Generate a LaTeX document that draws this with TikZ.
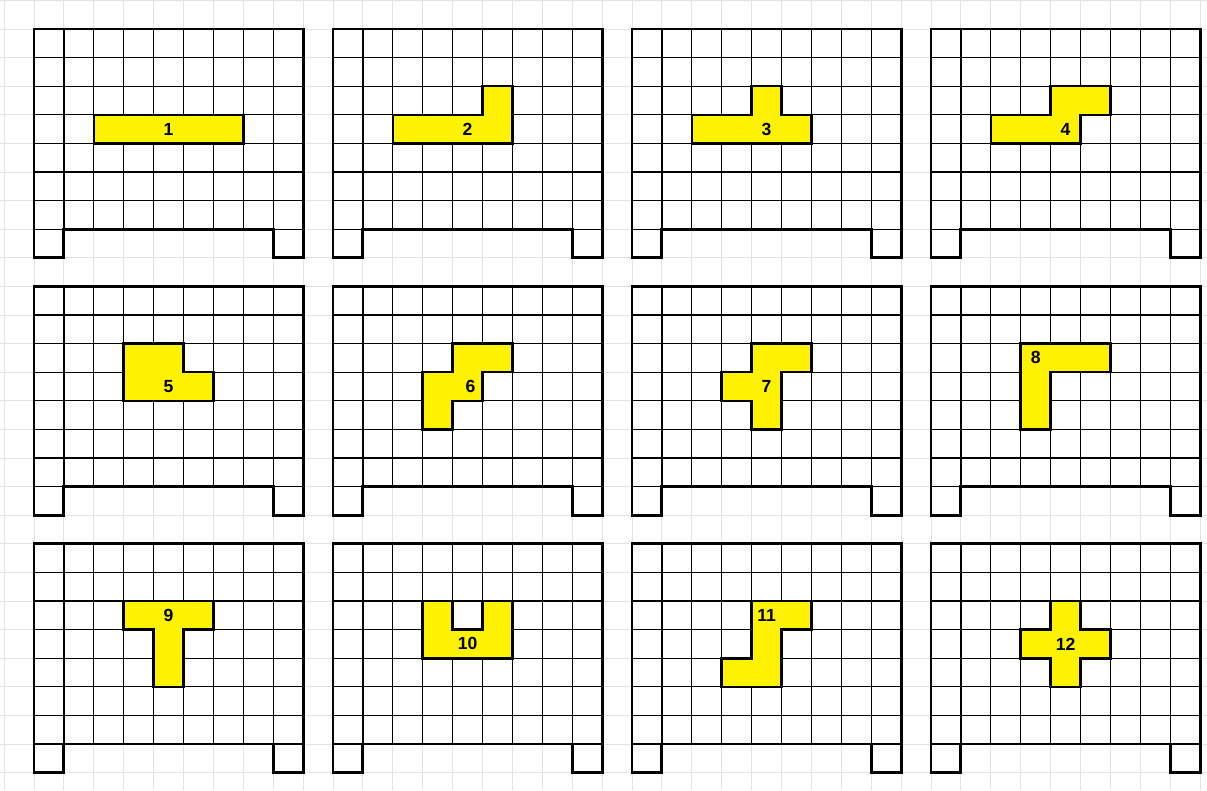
\documentclass[tikz,border=0pt]{standalone}
\usepackage{fontspec}
\setmainfont{Liberation Sans}

\begin{document}
\begin{tikzpicture}[
  x=0.897cm, y=-0.858cm,
  sheet/.style={draw=gray!22, line width=0.8pt},
  cell/.style={draw=black, line width=1.1pt},
  frame/.style={draw=black, line width=2.5pt, line join=miter},
  piece/.style={fill=yellow, draw=black, line width=2.2pt, line join=miter},
  num/.style={font=\fontsize{15}{18}\selectfont\bfseries, inner sep=0pt}
]
  % page with the spreadsheet grid behind
  \useasboundingbox (-1.137,-1.014) rectangle (39.23,26.61);
  \fill[white] (-1.137,-1.014) rectangle (39.23,26.61);
  \foreach \x in {-1,...,39} \draw[sheet] (\x,-1.014) -- (\x,26.61);
  \foreach \y in {-1,...,26} \draw[sheet] (-1.137,\y) -- (39.23,\y);

  % twelve boards, 4 across and 3 down
  \foreach \i in {0,...,3} {
    \foreach \j in {0,1,2} {
      \begin{scope}[shift={(10*\i,9*\j)}]
        \fill[white] (0,0) rectangle (9,7) (0,7) rectangle (1,8) (8,7) rectangle (9,8);
        \foreach \x in {1,...,8} \draw[cell] (\x,0) -- (\x,7);
        \foreach \y in {1,...,6} \draw[cell] (0,\y) -- (9,\y);
        \draw[cell] (0,7) -- (1,7) (8,7) -- (9,7);
        \draw[frame] (0,0) -- (9,0) -- (9,8) -- (8,8) -- (8,7) -- (1,7) -- (1,8) -- (0,8) -- cycle;
      \end{scope}
    }
  }

  % top row of boards
  \begin{scope}[shift={(0,0)}]
    \draw[piece] (2,3) rectangle (7,4);
    \node[num] (n1) at (4.5,3.5) {1};
  \end{scope}
  \begin{scope}[shift={(10,0)}]
    \draw[piece] (2,3) -- (5,3) -- (5,2) -- (6,2) -- (6,4) -- (2,4) -- cycle;
    \node[num] (n2) at (4.5,3.5) {2};
  \end{scope}
  \begin{scope}[shift={(20,0)}]
    \draw[piece] (2,3) -- (4,3) -- (4,2) -- (5,2) -- (5,3) -- (6,3) -- (6,4) -- (2,4) -- cycle;
    \node[num] (n3) at (4.5,3.5) {3};
  \end{scope}
  \begin{scope}[shift={(30,0)}]
    \draw[piece] (2,3) -- (4,3) -- (4,2) -- (6,2) -- (6,3) -- (5,3) -- (5,4) -- (2,4) -- cycle;
    \node[num] (n4) at (4.5,3.5) {4};
  \end{scope}

  % middle row of boards
  \begin{scope}[shift={(0,9)}]
    \draw[piece] (3,2) -- (5,2) -- (5,3) -- (6,3) -- (6,4) -- (3,4) -- cycle;
    \node[num] (n5) at (4.5,3.5) {5};
  \end{scope}
  \begin{scope}[shift={(10,9)}]
    \draw[piece] (4,2) -- (6,2) -- (6,3) -- (5,3) -- (5,4) -- (4,4) -- (4,5) -- (3,5) -- (3,3) -- (4,3) -- cycle;
    \node[num] (n6) at (4.6,3.5) {6};
  \end{scope}
  \begin{scope}[shift={(20,9)}]
    \draw[piece] (4,2) -- (6,2) -- (6,3) -- (5,3) -- (5,5) -- (4,5) -- (4,4) -- (3,4) -- (3,3) -- (4,3) -- cycle;
    \node[num] (n7) at (4.5,3.5) {7};
  \end{scope}
  \begin{scope}[shift={(30,9)}]
    \draw[piece] (3,2) -- (6,2) -- (6,3) -- (4,3) -- (4,5) -- (3,5) -- cycle;
    \node[num] (n8) at (3.5,2.5) {8};
  \end{scope}

  % bottom row of boards
  \begin{scope}[shift={(0,18)}]
    \draw[piece] (3,2) -- (6,2) -- (6,3) -- (5,3) -- (5,5) -- (4,5) -- (4,3) -- (3,3) -- cycle;
    \node[num] (n9) at (4.5,2.5) {9};
  \end{scope}
  \begin{scope}[shift={(10,18)}]
    \draw[piece] (3,2) -- (4,2) -- (4,3) -- (5,3) -- (5,2) -- (6,2) -- (6,4) -- (3,4) -- cycle;
    \node[num] (n10) at (4.5,3.5) {10};
  \end{scope}
  \begin{scope}[shift={(20,18)}]
    \draw[piece] (4,2) -- (6,2) -- (6,3) -- (5,3) -- (5,5) -- (3,5) -- (3,4) -- (4,4) -- cycle;
    \node[num] (n11) at (4.5,2.5) {11};
  \end{scope}
  \begin{scope}[shift={(30,18)}]
    \draw[piece] (4,2) -- (5,2) -- (5,3) -- (6,3) -- (6,4) -- (5,4) -- (5,5) -- (4,5) -- (4,4) -- (3,4) -- (3,3) -- (4,3) -- cycle;
    \node[num] (n12) at (4.5,3.5) {12};
  \end{scope}
\end{tikzpicture}
\end{document}
